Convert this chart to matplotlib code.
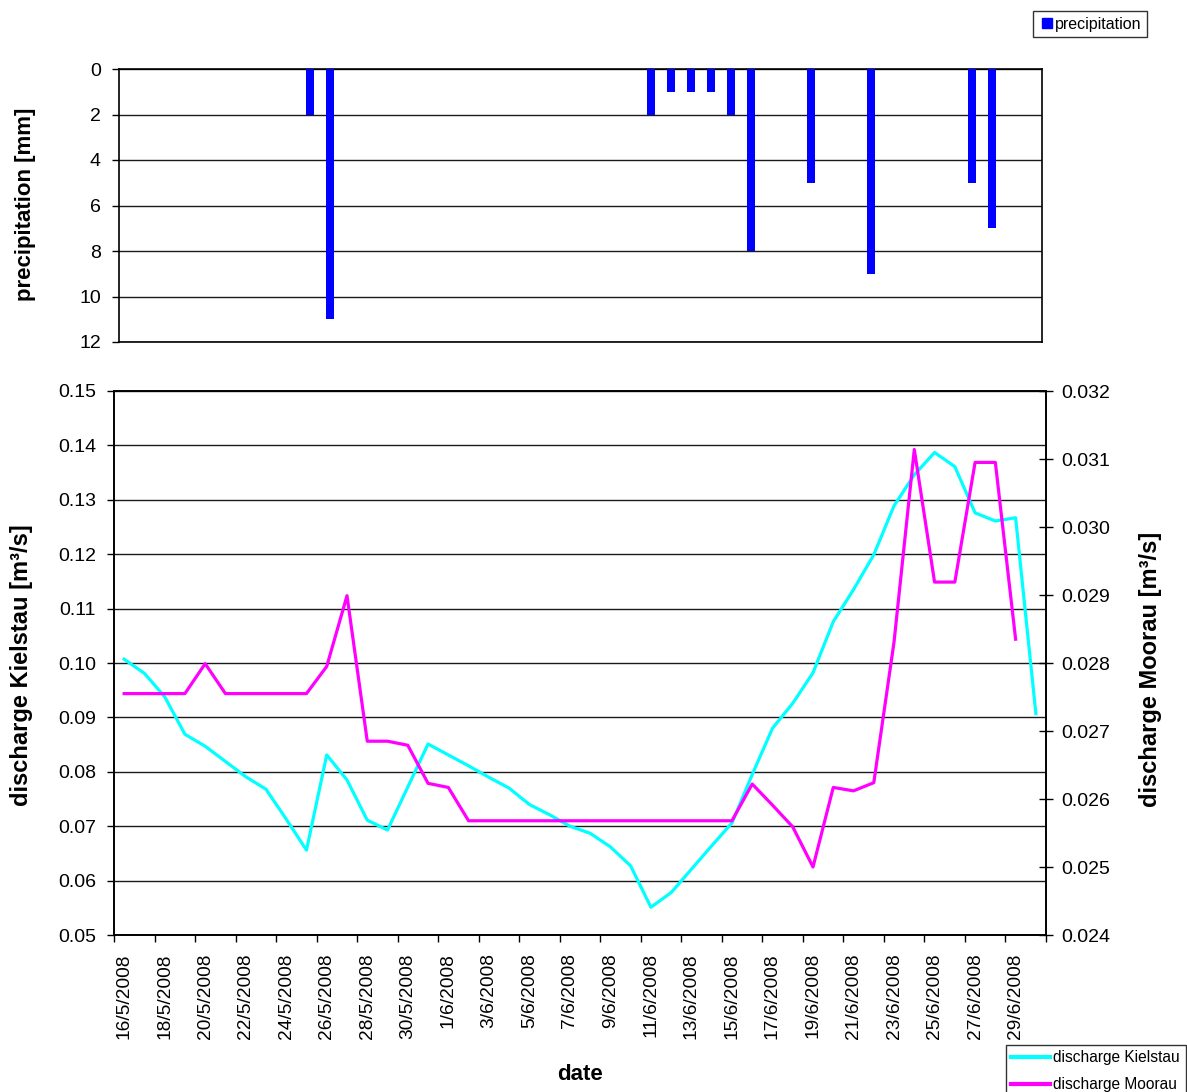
import matplotlib
matplotlib.use("Agg")
import matplotlib.pyplot as plt
import numpy as np
import pandas as pd
from matplotlib.lines import Line2D

plt.rcParams['font.family'] = ['Liberation Sans', 'DejaVu Sans']

dates = pd.date_range("2008-05-16", "2008-06-30", freq="D")
date_labels = [f"{d.day}/{d.month}/{d.year}" for d in dates]

# precipitation [mm], 0 = no rain
precip = [0, 0, 0, 0, 0, 0, 0, 0, 0, 2,
          11, 0, 0, 0, 0, 0, 0, 0, 0, 0,
          0, 0, 0, 0, 0, 0, 2, 1, 1, 1,
          2, 8, 0, 0, 5, 0, 0, 9, 0, 0,
          0, 0, 5, 7, 0, 0]

kielstau = [0.1007, 0.0981, 0.0938, 0.0869, 0.0847, 0.0819, 0.0791, 0.0768, 0.0713, 0.0656,
            0.0831, 0.0785, 0.0711, 0.0693, 0.0772, 0.0851, 0.0831, 0.0811, 0.0790, 0.0770,
            0.0740, 0.0721, 0.0700, 0.0687, 0.0662, 0.0627, 0.0551, 0.0578, 0.0621, 0.0664,
            0.0706, 0.0795, 0.0880, 0.0926, 0.0982, 0.1076, 0.1135, 0.1199, 0.1289, 0.1346,
            0.1387, 0.1361, 0.1276, 0.1261, 0.1267, 0.0907]

moorau = [0.02755, 0.02755, 0.02755, 0.02755, 0.02799, 0.02755, 0.02755, 0.02755, 0.02755, 0.02755,
          0.02795, 0.02899, 0.02685, 0.02685, 0.02679, 0.02623, 0.02617, 0.02568, 0.02568, 0.02568,
          0.02568, 0.02568, 0.02568, 0.02568, 0.02568, 0.02568, 0.02568, 0.02568, 0.02568, 0.02568,
          0.02568, 0.02622, 0.02591, 0.02559, 0.02500, 0.02617, 0.02612, 0.02624, 0.02831, 0.03114,
          0.02919, 0.02919, 0.03095, 0.03095, 0.02835, np.nan]

x = np.arange(len(dates))
W, H = 1187, 1092
fig = plt.figure(figsize=(W / 100, H / 100), dpi=100)

grid_kw = dict(color="#1a1a1a", linewidth=1.0)

# ---- precipitation panel
ax_p = fig.add_axes([119 / W, 1 - 342 / H, (1042 - 119) / W, (342 - 69) / H])
ax_p.bar(x, precip, width=0.4, color="#0000FF", zorder=3)
ax_p.set_xlim(-0.5, len(dates) - 0.5)
ax_p.set_ylim(12, 0)
ax_p.set_yticks(range(0, 13, 2))
ax_p.yaxis.grid(True, **grid_kw)
ax_p.set_axisbelow(True)
ax_p.set_xticks([])
ax_p.tick_params(axis="y", labelsize=14, length=5, width=1, direction="out", pad=8)
for s in ax_p.spines.values():
    s.set_linewidth(1.2)
fig.text(26 / W, 1 - 204 / H, "precipitation [mm]", rotation=90, fontsize=16,
         fontweight="bold", ha="center", va="center")
ax_p.legend(handles=[Line2D([], [], marker="s", color="#0000FF", linestyle="none", markersize=7)],
            labels=["precipitation"], loc="upper left", bbox_to_anchor=(1033 / W, 1 - 11 / H),
            bbox_transform=fig.transFigure, fontsize=11.5, frameon=True, fancybox=False,
            edgecolor="black", handletextpad=0.0, borderpad=0.35, handlelength=1.0,
            borderaxespad=0)

# ---- discharge panel
ax = fig.add_axes([114 / W, 1 - 935 / H, (1046 - 114) / W, (935 - 391) / H])
ax.plot(x, kielstau, color="#00FFFF", linewidth=2.3, zorder=3)
ax.set_xlim(-0.5, len(dates) - 0.5)
ax.set_ylim(0.05, 0.15)
ax.set_yticks(np.arange(0.05, 0.1501, 0.01))
ax.set_yticklabels([f"{v:.2f}" for v in np.arange(0.05, 0.1501, 0.01)])
ax.yaxis.grid(True, **grid_kw)
ax.set_axisbelow(True)
ax.tick_params(axis="y", labelsize=14, length=5, width=1, direction="out", pad=8)
ax.set_xticks(x[0:45:2])
ax.set_xticklabels(date_labels[0:45:2], rotation=90, fontsize=13.8)
ax.set_xticks(np.arange(-0.5, len(dates), 2), minor=True)
ax.tick_params(axis="x", which="major", length=0, pad=13)
ax.tick_params(axis="x", which="minor", length=5, width=1, direction="out")
for s in ax.spines.values():
    s.set_linewidth(1.2)

ax2 = ax.twinx()
ax2.plot(x, moorau, color="#FF00FF", linewidth=2.3, zorder=3)
ax2.set_ylim(0.024, 0.032)
ax2.set_yticks(np.arange(0.024, 0.03201, 0.001))
ax2.set_yticklabels([f"{v:.3f}" for v in np.arange(0.024, 0.03201, 0.001)])
ax2.tick_params(axis="y", labelsize=14, length=10, width=1, direction="inout", pad=6)
for s in ax2.spines.values():
    s.set_linewidth(1.2)

fig.text(22 / W, 1 - 665 / H, "discharge Kielstau [m³/s]", rotation=90, fontsize=17,
         fontweight="bold", ha="center", va="center")
fig.text(1150 / W, 1 - 669 / H, "discharge Moorau [m³/s]", rotation=90, fontsize=17,
         fontweight="bold", ha="center", va="center")
fig.text(580 / W, 1 - 1075 / H, "date", fontsize=16, fontweight="bold",
         ha="center", va="center")

fig.legend(handles=[Line2D([], [], color="#00FFFF", linewidth=3),
                    Line2D([], [], color="#FF00FF", linewidth=3)],
           labels=["discharge Kielstau", "discharge Moorau"], loc="upper left",
           bbox_to_anchor=(1006 / W, 1 - 1045 / H), fontsize=11.2, frameon=True,
           fancybox=False, edgecolor="black", handlelength=2.5, handletextpad=0.2,
           borderpad=0.35, labelspacing=0.75, borderaxespad=0)

fig.savefig("out.png", dpi=100)
